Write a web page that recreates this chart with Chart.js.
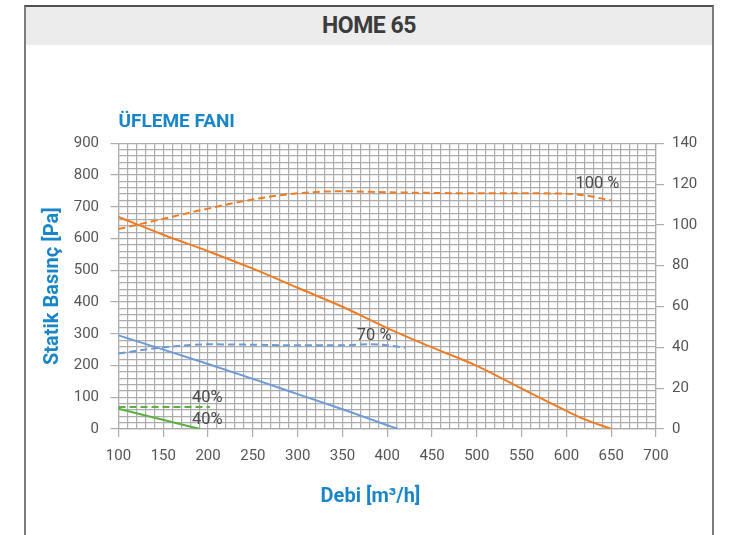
<!DOCTYPE html>
<html>
<head>
<meta charset="utf-8">
<script src="https://cdn.jsdelivr.net/npm/chart.js@4.4.1/dist/chart.umd.min.js"></script>
<style>
  html, body { margin: 0; padding: 0; background: #fff; }
  body { width: 735px; height: 535px; position: relative; overflow: hidden; font-family: Roboto, sans-serif; }
  .frame { position: absolute; left: 24px; top: 5px; width: 686px; height: 540px;
           border: 2px solid #7d7d7d; border-top-color: #505050; border-bottom: none; }
  .head { height: 38px; background: #ececec; text-align: center; color: #3c3c3c;
          font: bold 23px/38px Roboto, sans-serif; letter-spacing: -0.5px; }
  #fanChart { position: absolute; left: 0; top: 0; }
</style>
</head>
<body>
<div class="frame"><div class="head">HOME 65</div></div>
<canvas id="fanChart" width="735" height="535"></canvas>

<script>
// tick labels
const flowTicks = [100, 150, 200, 250, 300, 350, 400, 450, 500, 550, 600, 650, 700];
const pressureTicks = [0, 100, 200, 300, 400, 500, 600, 700, 800, 900];
const powerTicks = [0, 20, 40, 60, 80, 100, 120, 140];

// 100 % curve: static pressure (Pa) and power (right axis)
const flow100 = [100, 150, 200, 250, 300, 350, 400, 450, 500, 550, 600, 620, 650];
const pressure100 = [668, 612, 560, 505, 445, 385, 318, 257, 199, 127, 57, 31, 0];
const powerFlow100 = [100, 150, 200, 250, 300, 350, 400, 450, 500, 550, 600, 620, 650];
const power100 = [98, 103, 108, 112.5, 115.5, 116.5, 116, 115.7, 115.5, 115.5, 115.3, 114.5, 112];

// 70 % curve
const flow70 = [100, 150, 200, 250, 300, 350, 400, 412];
const pressure70 = [295, 250, 205, 158, 110, 62, 12, 0];
const powerFlow70 = [100, 150, 200, 250, 300, 350, 380, 400, 420];
const power70 = [37, 40, 41.5, 41.3, 41, 41, 41.5, 41, 39.8];

// 40 % curve
const flow40 = [100, 191];
const pressure40 = [64, 0];
const powerFlow40 = [100, 202];
const power40 = [10.8, 10.8];

// curve captions, placed in data units (flow, pressure)
const captionText = ['100 %', '70 %', '40%', '40%'];
const captionFlow = [610, 366, 182, 182];
const captionPressure = [771, 293, 98, 28];

const ORANGE = '#f07c22';
const BLUE = '#6a9bd6';
const GREEN = '#5bb040';
const TITLE_BLUE = '#1a86c8';
const GRID = '#acacac';

function pts(xs, ys) {
  return xs.map((x, i) => ({ x: x, y: ys[i] }));
}

function line(xs, ys, color, axis, dashed) {
  return {
    data: pts(xs, ys),
    borderColor: color,
    borderWidth: 2,
    borderDash: dashed ? [7, 4] : [],
    pointRadius: 0,
    fill: false,
    cubicInterpolationMode: 'monotone',
    yAxisID: axis
  };
}

// captions + x-axis title
const captionPlugin = {
  id: 'captions',
  afterDatasetsDraw(chart) {
    const ctx = chart.ctx;
    const sx = chart.scales.x, sy = chart.scales.y;
    ctx.save();
    ctx.font = '16.5px Roboto';
    ctx.fillStyle = '#4a4a4a';
    ctx.textAlign = 'left';
    ctx.textBaseline = 'middle';
    captionText.forEach((t, i) => {
      ctx.fillText(t, sx.getPixelForValue(captionFlow[i]), sy.getPixelForValue(captionPressure[i]));
    });
    ctx.font = 'bold 20px Roboto';
    ctx.fillStyle = TITLE_BLUE;
    ctx.textAlign = 'center';
    ctx.fillText('Debi [m³/h]', chart.width / 2 + 3, 497);
    ctx.restore();
  }
};

new Chart(document.getElementById('fanChart'), {
  type: 'line',
  data: {
    datasets: [
      line(flow100, pressure100, ORANGE, 'y', false),
      line(powerFlow100, power100, ORANGE, 'y1', true),
      line(flow70, pressure70, BLUE, 'y', false),
      line(powerFlow70, power70, BLUE, 'y1', true),
      line(flow40, pressure40, GREEN, 'y', false),
      line(powerFlow40, power40, GREEN, 'y1', true)
    ]
  },
  options: {
    responsive: false,
    animation: false,
    layout: { padding: { left: 38, top: 111, right: 0, bottom: 0 } },
    plugins: {
      legend: { display: false },
      tooltip: { enabled: false },
      title: {
        display: true,
        text: 'ÜFLEME FANI',
        align: 'start',
        fullSize: false,
        color: TITLE_BLUE,
        font: { family: 'Roboto', size: 19, weight: 'bold' },
        padding: { top: 0, bottom: 9.5 }
      }
    },
    scales: {
      x: {
        type: 'linear',
        min: flowTicks[0],
        max: flowTicks[flowTicks.length - 1],
        afterFit: (s) => { s.height = 106; },
        ticks: {
          stepSize: 10,
          autoSkip: false,
          maxRotation: 0,
          padding: 10,
          color: '#555',
          font: { family: 'Roboto', size: 15 },
          callback: (v) => flowTicks.includes(v) ? v : ''
        },
        grid: {
          color: GRID,
          lineWidth: 1.2,
          tickLength: 8,
          tickColor: (c) => (c.tick && flowTicks.includes(c.tick.value)) ? GRID : 'rgba(0,0,0,0)'
        },
        border: { color: GRID, width: 1.2 }
      },
      y: {
        position: 'left',
        min: pressureTicks[0],
        max: pressureTicks[pressureTicks.length - 1],
        afterFit: (s) => { s.width = 80.5; },
        title: {
          display: true,
          text: 'Statik Basınç [Pa]',
          color: TITLE_BLUE,
          font: { family: 'Roboto', size: 20, weight: 'bold' },
          padding: { top: 3, bottom: 4 }
        },
        ticks: {
          stepSize: 20,
          autoSkip: false,
          padding: 11.5,
          color: '#555',
          font: { family: 'Roboto', size: 15 },
          callback: (v) => pressureTicks.includes(v) ? v : ''
        },
        grid: {
          color: GRID,
          lineWidth: 1.2,
          tickLength: 8,
          tickColor: (c) => (c.tick && pressureTicks.includes(c.tick.value)) ? GRID : 'rgba(0,0,0,0)'
        },
        border: { color: GRID, width: 1.2 }
      },
      y1: {
        position: 'right',
        min: powerTicks[0],
        max: powerTicks[powerTicks.length - 1],
        afterFit: (s) => { s.width = 79; },
        ticks: {
          stepSize: 20,
          autoSkip: false,
          padding: 8,
          color: '#555',
          font: { family: 'Roboto', size: 15 },
          callback: (v) => powerTicks.includes(v) ? v : ''
        },
        grid: {
          drawOnChartArea: false,
          color: GRID,
          lineWidth: 1.2,
          tickLength: 8
        },
        border: { color: GRID, width: 1.2 }
      }
    }
  },
  plugins: [captionPlugin]
});
</script>
</body>
</html>
